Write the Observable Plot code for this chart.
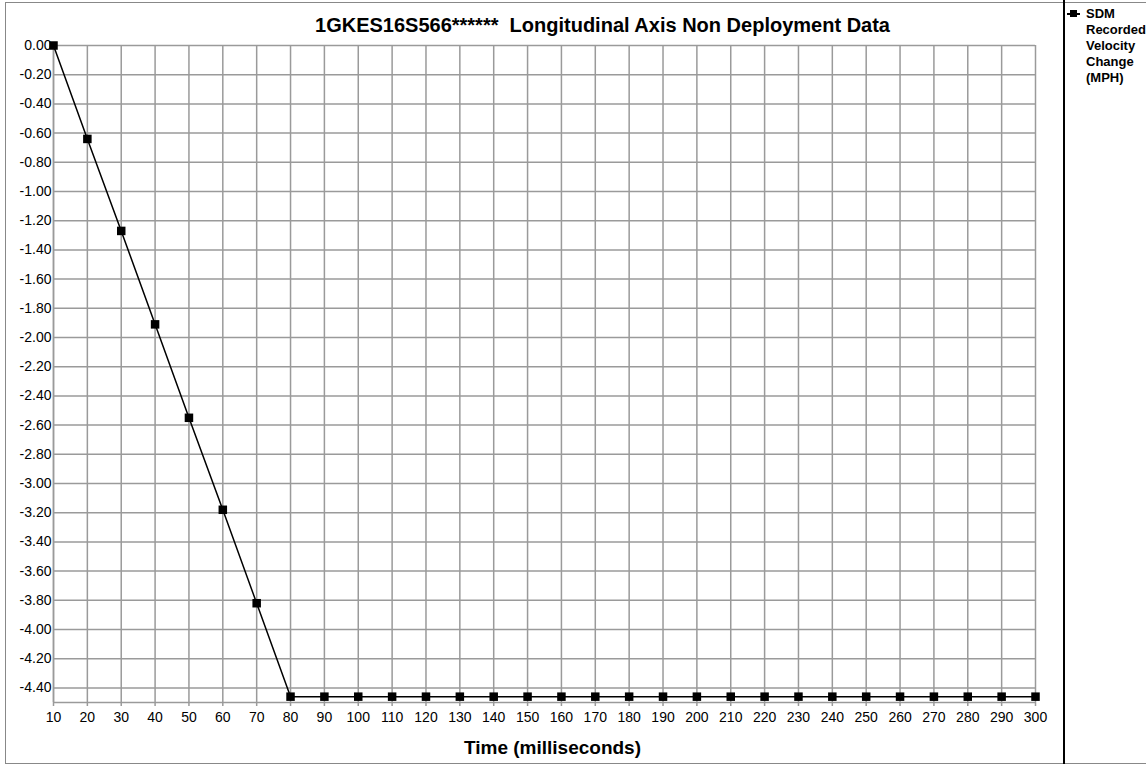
<!DOCTYPE html>
<html>
<head>
<meta charset="utf-8">
<script src="https://cdn.jsdelivr.net/npm/d3@7"></script>
<script src="https://cdn.jsdelivr.net/npm/@observablehq/plot@0.6"></script>
<style>
  html, body { margin: 0; padding: 0; background: #fff; }
  body { font-family: "Liberation Sans", Arial, sans-serif; }
  #wrap { position: relative; width: 1146px; height: 765px; overflow: hidden; }
  #frame { position: absolute; left: 5px; top: 2px; width: 1160px; height: 762px; border: 1px solid #888; box-sizing: border-box; }
  #legline { position: absolute; left: 1063px; top: 0; width: 2px; height: 764px; background: #000; }
  #title { position: absolute; top: 14px; left: 0; width: 1205px; text-align: center; font-weight: bold; font-size: 20px; color: #000; white-space: pre; }
  #legend { position: absolute; left: 1067px; top: 6px; font-weight: bold; font-size: 13px; line-height: 16px; white-space: nowrap; }
  #legend .sw { position: absolute; left: 0; top: 7px; width: 13px; height: 1.5px; background: #000; }
  #legend .sq { position: absolute; left: 3px; top: 4px; width: 7px; height: 7px; background: #000; }
  #legend .txt { position: absolute; left: 19px; top: 0; }
  #chart { position: absolute; left: 0; top: 0; }
</style>
</head>
<body>
<div id="wrap">
  <div id="frame"></div>
  <div id="legline"></div>
  <div id="chart"></div>
  <div id="title"></div>
  <div id="legend"><div class="sw"></div><div class="sq"></div><div class="txt"></div></div>
</div>
<script>
const title = "1GKES16S566******  Longitudinal Axis Non Deployment Data";
const xLabel = "Time (milliseconds)";
const seriesName = ["SDM", "Recorded", "Velocity", "Change", "(MPH)"];
const times = [10,20,30,40,50,60,70,80,90,100,110,120,130,140,150,160,170,180,190,200,210,220,230,240,250,260,270,280,290,300];
const velocity = [0.00,-0.64,-1.27,-1.91,-2.55,-3.18,-3.82,-4.46,-4.46,-4.46,-4.46,-4.46,-4.46,-4.46,-4.46,-4.46,-4.46,-4.46,-4.46,-4.46,-4.46,-4.46,-4.46,-4.46,-4.46,-4.46,-4.46,-4.46,-4.46,-4.46];
const yTicks = [0,-0.2,-0.4,-0.6,-0.8,-1.0,-1.2,-1.4,-1.6,-1.8,-2.0,-2.2,-2.4,-2.6,-2.8,-3.0,-3.2,-3.4,-3.6,-3.8,-4.0,-4.2,-4.4];
const yDomain = [-4.5, 0];

document.getElementById("title").textContent = title;
document.querySelector("#legend .txt").innerHTML = seriesName.join("<br>");

const data = times.map((t, i) => ({t, v: velocity[i]}));
const gridColor = "#9a9a9a";

const chart = Plot.plot({
  width: 1146,
  height: 765,
  marginLeft: 53,
  marginRight: 111,
  marginTop: 45,
  marginBottom: 63,
  style: {background: "transparent", fontFamily: "Liberation Sans, Arial, sans-serif", fontSize: "14px", color: "#000"},
  x: {domain: [10, 300], ticks: times, label: null},
  y: {domain: yDomain, ticks: yTicks, label: null},
  marks: [
    Plot.gridX(times, {stroke: gridColor, strokeOpacity: 1, strokeWidth: 1.5}),
    Plot.gridY(yTicks, {stroke: gridColor, strokeOpacity: 1, strokeWidth: 1.5}),
    Plot.ruleX([10], {stroke: gridColor, strokeWidth: 1.5}),
    Plot.ruleY([yDomain[0]], {stroke: gridColor, strokeWidth: 1.5}),
    Plot.axisX(times, {tickSize: 4, tickPadding: 6, stroke: gridColor, strokeWidth: 1.5, fill: "#000", fontSize: 14, label: null}),
    Plot.axisY(yTicks, {tickSize: 0, tickPadding: 2, tickFormat: d => d.toFixed(2), fill: "#000", fontSize: 14, label: null}),
    Plot.line(data, {x: "t", y: "v", stroke: "#000", strokeWidth: 1.5}),
    Plot.dot(data, {x: "t", y: "v", symbol: "square", r: 4.8, fill: "#000", stroke: "none"}),
    Plot.text([xLabel], {frameAnchor: "bottom", dy: 51, dx: 8, fontWeight: "bold", fontSize: 19, fill: "#000"})
  ]
});
document.getElementById("chart").appendChild(chart);
</script>
</body>
</html>
